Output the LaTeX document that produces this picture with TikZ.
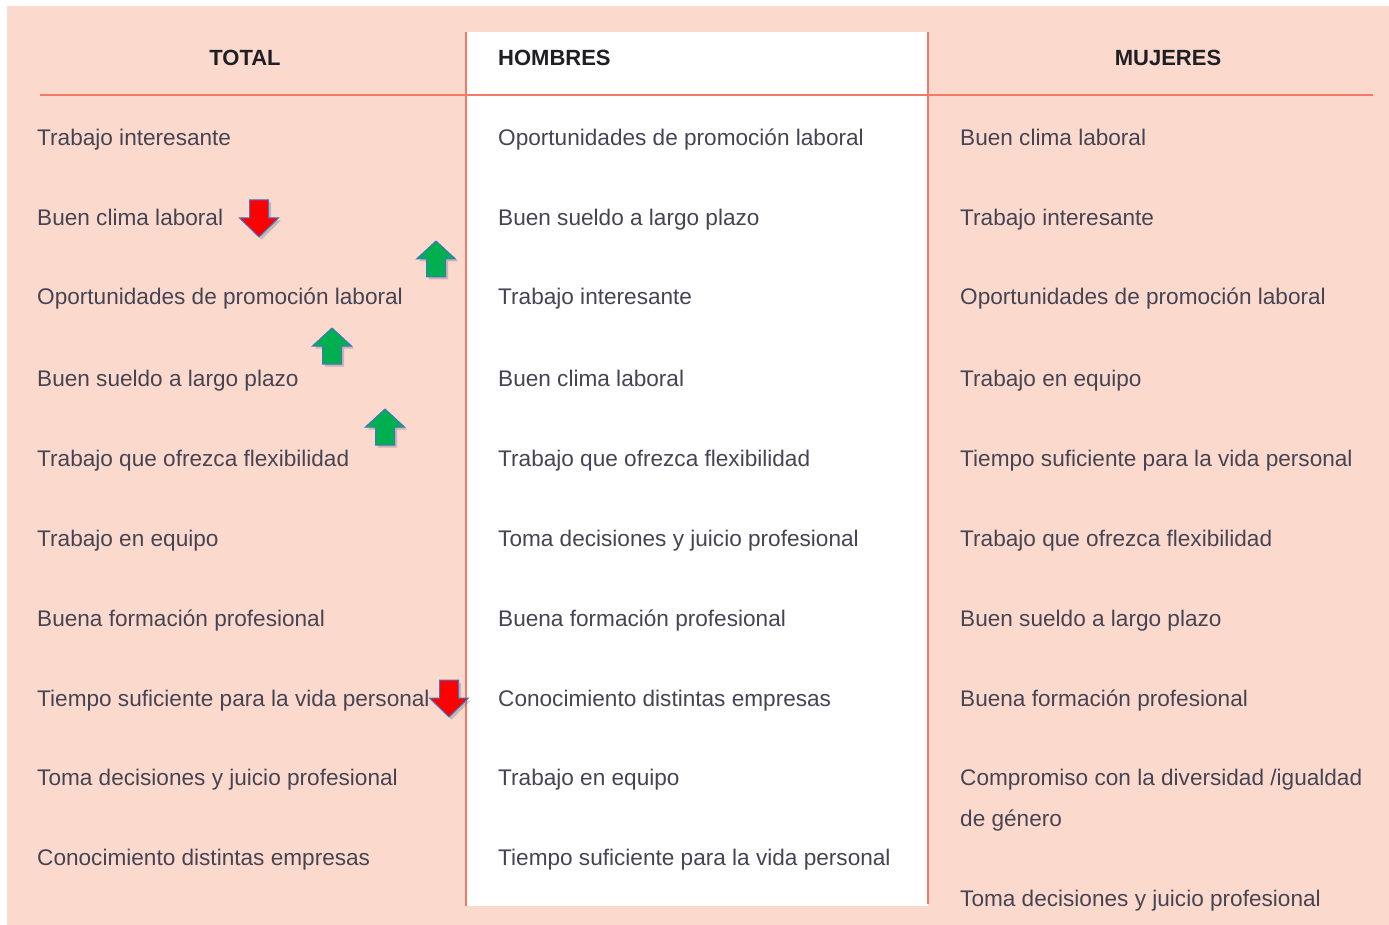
\documentclass[tikz,border=0pt]{standalone}
\usepackage{fontspec}
\setmainfont{Liberation Sans}
\usetikzlibrary{shadows}
\definecolor{peach}{RGB}{251,218,205}
\definecolor{rule}{RGB}{243,122,102}
\definecolor{bodytxt}{RGB}{70,68,84}
\definecolor{headtxt}{RGB}{30,30,36}
\definecolor{agreen}{RGB}{0,176,80}
\definecolor{ared}{RGB}{255,0,0}
\definecolor{aline}{RGB}{68,114,196}
\tikzset{
  x=1pt, y=-1pt,
  cell/.style={anchor=base west, inner sep=0pt, text=bodytxt, font=\fontsize{22.6}{26}\selectfont},
  head/.style={anchor=base, inner sep=0pt, text=headtxt, font=\fontsize{22}{26}\selectfont\bfseries},
  rulel/.style={draw=rule, line width=1.5pt},
  blockarr/.style={draw=aline, line width=1pt, line join=miter,
    drop shadow={opacity=0.4, shadow xshift=2.5pt, shadow yshift=-2.5pt}},
  greenup/.pic={\path[blockarr, fill=agreen] (-9.5,36) -- (-9.5,18) -- (-19.5,18) -- (0,0) -- (19.5,18) -- (9.5,18) -- (9.5,36) -- cycle;},
  reddown/.pic={\path[blockarr, fill=ared] (-9.5,0) -- (-9.5,18) -- (-19.5,18) -- (0,37) -- (19.5,18) -- (9.5,18) -- (9.5,0) -- cycle;}
}
\begin{document}
\begin{tikzpicture}
\useasboundingbox (0,0) rectangle (1389,925);
\fill[peach] (7,6) rectangle (1389,925);
\fill[white] (466,32) rectangle (928,906);
\coordinate (hl) at (40,95);
\coordinate (hr) at (1373,95);
\coordinate (v1t) at (466,32);
\coordinate (v1b) at (466,906);
\coordinate (v2t) at (928,32);
\coordinate (v2b) at (928,904);
\draw[rulel] (hl) -- (hr);
\draw[rulel] (v1t) -- (v1b);
\draw[rulel] (v2t) -- (v2b);
% headers
\node[head] (hT) at (245,66) {TOTAL};
\node[head, anchor=base west] (hH) at (498,66) {HOMBRES};
\node[head] (hM) at (1168,66) {MUJERES};
% TOTAL
\node[cell] (t1) at (37,146) {Trabajo interesante};
\node[cell] (t2) at (37,226) {Buen clima laboral};
\node[cell] (t3) at (37,305) {Oportunidades de promoción laboral};
\node[cell] (t4) at (37,386) {Buen sueldo a largo plazo};
\node[cell] (t5) at (37,466) {Trabajo que ofrezca flexibilidad};
\node[cell] (t6) at (37,546) {Trabajo en equipo};
\node[cell] (t7) at (37,626) {Buena formación profesional};
\node[cell] (t8) at (37,706) {Tiempo suficiente para la vida personal};
\node[cell] (t9) at (37,785) {Toma decisiones y juicio profesional};
\node[cell] (t10) at (37,865) {Conocimiento distintas empresas};
% HOMBRES
\node[cell] (h1) at (498,146) {Oportunidades de promoción laboral};
\node[cell] (h2) at (498,226) {Buen sueldo a largo plazo};
\node[cell] (h3) at (498,305) {Trabajo interesante};
\node[cell] (h4) at (498,386) {Buen clima laboral};
\node[cell] (h5) at (498,466) {Trabajo que ofrezca flexibilidad};
\node[cell] (h6) at (498,546) {Toma decisiones y juicio profesional};
\node[cell] (h7) at (498,626) {Buena formación profesional};
\node[cell] (h8) at (498,706) {Conocimiento distintas empresas};
\node[cell] (h9) at (498,785) {Trabajo en equipo};
\node[cell] (h10) at (498,865) {Tiempo suficiente para la vida personal};
% MUJERES
\node[cell] (m1) at (960,146) {Buen clima laboral};
\node[cell] (m2) at (960,226) {Trabajo interesante};
\node[cell] (m3) at (960,305) {Oportunidades de promoción laboral};
\node[cell] (m4) at (960,386) {Trabajo en equipo};
\node[cell] (m5) at (960,466) {Tiempo suficiente para la vida personal};
\node[cell] (m6) at (960,546) {Trabajo que ofrezca flexibilidad};
\node[cell] (m7) at (960,626) {Buen sueldo a largo plazo};
\node[cell] (m8) at (960,706) {Buena formación profesional};
\node[cell] (m9) at (960,785) {Compromiso con la diversidad /igualdad};
\node[cell] (m9b) at (960,826) {de género};
\node[cell] (m10) at (960,906) {Toma decisiones y juicio profesional};
% arrows
\pic at (259,200) {reddown};
\pic at (436,241) {greenup};
\pic at (332,328) {greenup};
\pic at (385,409) {greenup};
\pic at (449,680) {reddown};
\end{tikzpicture}
\end{document}
